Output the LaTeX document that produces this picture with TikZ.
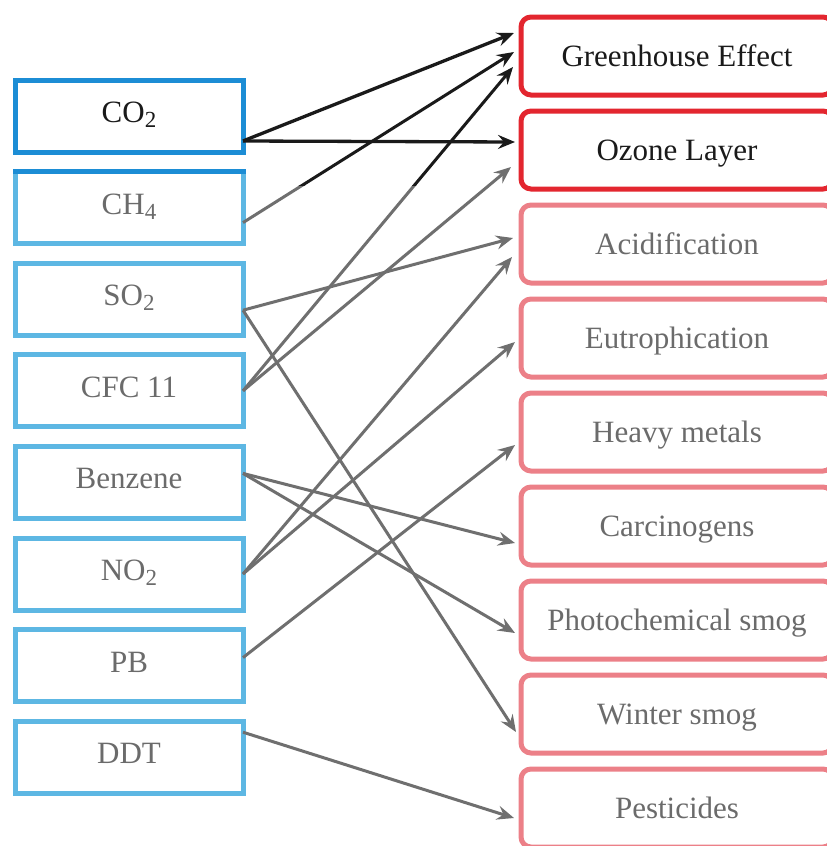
\documentclass[tikz,border=0pt]{standalone}
\usepackage{fontspec}
\setmainfont{Liberation Serif}
\usetikzlibrary{arrows.meta}

\definecolor{srcdark}{HTML}{1C8DD5}
\definecolor{srclight}{HTML}{5DB7E3}
\definecolor{tgtdark}{HTML}{E3262F}
\definecolor{tgtlight}{HTML}{EC8088}
\definecolor{inkdark}{HTML}{1A1A1A}
\definecolor{inkgray}{HTML}{6B6B6B}
\definecolor{linkgray}{HTML}{6F6F6F}

% chemical subscript, set a little larger and lower than \textsubscript
\newcommand\chemsub[1]{\raisebox{-5pt}{\fontsize{23}{23}\selectfont #1}}

\begin{document}
\begin{tikzpicture}[x=1pt,y=-1pt,
  every node/.style={font=\fontsize{31}{34}\selectfont},
  srcbox/.style={draw=srclight, line width=5pt, fill=white, outer sep=0pt,
    minimum width=228pt, minimum height=72pt, inner sep=0pt,
    text height=21pt, text depth=8pt, text=inkgray},
  tgtbox/.style={draw=tgtlight, line width=5pt, fill=white, outer sep=0pt,
    rounded corners=10pt, minimum width=312pt, minimum height=78pt,
    inner sep=0pt, text height=21pt, text depth=0pt, text=inkgray},
  strong/.style={text=inkdark},
  link/.style={line width=3pt, draw=linkgray,
    -{Stealth[length=17pt,width=14pt,inset=6pt]}},
  blacklink/.style={link, draw=inkdark, line width=3.3pt}
]
% canvas
\fill[white] (0,0) rectangle (827,846);
\useasboundingbox (0,0) rectangle (827,846);

% pollutants
\node[srcbox, draw=srcdark, strong] (co2) at (129,116)   {CO\chemsub{2}};
\node[srcbox] (ch4)  at (129,207.6) {CH\chemsub{4}};
\node[srcbox] (so2)  at (129,299.2) {SO\chemsub{2}};
\node[srcbox] (cfc)  at (129,390.8) {CFC 11};
\node[srcbox] (benz) at (129,482.4) {Benzene};
\node[srcbox] (no2)  at (129,574)   {NO\chemsub{2}};
\node[srcbox] (pb)   at (129,665.6) {PB};
\node[srcbox] (ddt)  at (129,757.2) {DDT};
\draw[srcdark, line width=5pt, line cap=rect] (ch4.north west) -- (ch4.north east);

% impact categories
\node[tgtbox, draw=tgtdark, strong] (gh)  at (677,56)  {Greenhouse Effect};
\node[tgtbox, draw=tgtdark, strong] (oz)  at (677,150) {Ozone Layer};
\node[tgtbox] (acid)  at (677,244) {Acidification};
\node[tgtbox] (eutro) at (677,338) {Eutrophication};
\node[tgtbox] (heavy) at (677,432) {Heavy metals};
\node[tgtbox] (carc)  at (677,526) {Carcinogens};
\node[tgtbox] (photo) at (677,620) {Photochemical smog};
\node[tgtbox] (winter) at (677,714) {Winter smog};
\node[tgtbox] (pest)  at (677,808) {Pesticides};

% links from CO2
\draw[blacklink] ([yshift=-25pt]co2.east) -- ([xshift=-7pt,yshift=23pt]gh.west);
\draw[blacklink] ([yshift=-25pt]co2.east) -- ([xshift=-6pt,yshift=8pt]oz.west);

% CH4 and CFC 11 into the greenhouse box: grey below, black above
\begin{scope}
  \clip (0,185) rectangle (827,846);
  \draw[link] ([yshift=-15pt]ch4.east) -- ([xshift=-7pt,yshift=4pt]gh.west);
  \draw[link] (cfc.east) -- ([xshift=-8pt,yshift=-11pt]gh.west);
\end{scope}
\begin{scope}
  \clip (0,0) rectangle (827,185);
  \draw[blacklink, line width=3pt] ([yshift=-15pt]ch4.east) -- ([xshift=-7pt,yshift=4pt]gh.west);
  \draw[blacklink, line width=3pt] (cfc.east) -- ([xshift=-8pt,yshift=-11pt]gh.west);
\end{scope}

% remaining links
\draw[link] (cfc.east) -- ([xshift=-10pt,yshift=-17pt]oz.west);
\draw[link] ([yshift=-11pt]so2.east) -- ([xshift=-8pt,yshift=6pt]acid.west);
\draw[link] ([yshift=-11pt]so2.east) -- ([xshift=-5pt,yshift=-18pt]winter.west);
\draw[link] (no2.east) -- ([xshift=-9pt,yshift=-13pt]acid.west);
\draw[link] (no2.east) -- ([xshift=-6pt,yshift=-4pt]eutro.west);
\draw[link] ([yshift=8pt]pb.east) -- ([xshift=-6pt,yshift=-13pt]heavy.west);
\draw[link] ([yshift=9pt]benz.east) -- ([xshift=-6pt,yshift=-17pt]carc.west);
\draw[link] ([yshift=9pt]benz.east) -- ([xshift=-6pt,yshift=-13pt]photo.west);
\draw[link] ([yshift=25pt]ddt.east) -- ([xshift=-7pt,yshift=-10pt]pest.west);
\end{tikzpicture}
\end{document}
